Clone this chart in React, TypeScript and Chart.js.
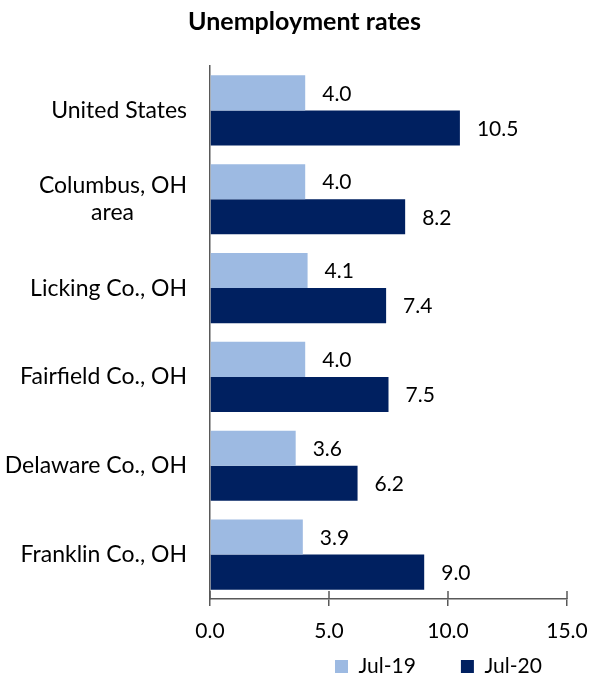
import React, { useEffect, useRef } from 'react';
import { Chart, registerables } from 'chart.js';

Chart.register(...registerables);

// ---- data ----
const chartTitle = 'Unemployment rates';
const categories: (string | string[])[] = [
  'United States',
  ['Columbus, OH', 'area'],
  'Licking Co., OH',
  'Fairfield Co., OH',
  'Delaware Co., OH',
  'Franklin Co., OH',
];
const seriesNames = ['Jul-19', 'Jul-20'];
const jul19 = [4.0, 4.0, 4.1, 4.0, 3.6, 3.9];
const jul20 = [10.5, 8.2, 7.4, 7.5, 6.2, 9.0];
const xTickValues = [0, 5, 10, 15];

// ---- style ----
const FONT = 'Lato, "Open Sans", sans-serif';
const LIGHT = '#9DBAE2';
const DARK = '#002060';
const AXIS = '#595959';
const CAT_SIZE = 23;
const NUM_SIZE = 21;

const valueLabels = {
  id: 'valueLabels',
  afterDatasetsDraw(chart: any) {
    const ctx = chart.ctx;
    ctx.save();
    ctx.font = `${NUM_SIZE}px ${FONT}`;
    ctx.fillStyle = '#000';
    ctx.textAlign = 'left';
    ctx.textBaseline = 'middle';
    chart.data.datasets.forEach((ds: any, di: number) => {
      const meta = chart.getDatasetMeta(di);
      meta.data.forEach((bar: any, i: number) => {
        ctx.fillText(Number(ds.data[i]).toFixed(1), bar.x + 17, bar.y + 1);
      });
    });
    ctx.restore();
  },
};

const crossTicks = {
  id: 'crossTicks',
  afterDraw(chart: any) {
    const sx = chart.scales.x;
    const ctx = chart.ctx;
    const bottom = chart.chartArea.bottom;
    ctx.save();
    ctx.strokeStyle = AXIS;
    ctx.lineWidth = 1.5;
    sx.ticks.forEach((t: any) => {
      const px = sx.getPixelForValue(t.value);
      ctx.beginPath();
      ctx.moveTo(px, bottom - 8);
      ctx.lineTo(px, bottom);
      ctx.stroke();
    });
    ctx.restore();
  },
};

const nudge = {
  id: 'nudge',
  afterLayout(chart: any) {
    const t = chart.titleBlock;
    if (t) {
      t.left += 21;
      t.right += 21;
    }
    // let the x tick labels draw below the (thin) scale box
    if (chart.scales.x) chart.scales.x.bottom = chart.height;
    const lg = chart.legend;
    if (lg && lg.lineWidths) {
      const pad = lg.options.labels.padding;
      const cur = (lg.left + pad + lg.right - lg.lineWidths[0]) / 2;
      const target = chart.chartArea.left + 125;
      const dx = target - cur;
      lg.left += dx;
      lg.right += dx;
      lg.top += 8;
      lg.bottom += 8;
      if (lg.adjustHitBoxes) lg.adjustHitBoxes();
    }
  },
};

export default function App() {
  const ref = useRef<HTMLCanvasElement | null>(null);

  useEffect(() => {
    document.body.style.margin = '0';
    const canvas = ref.current;
    if (!canvas) return;
    const chart = new Chart(canvas, {
      type: 'bar',
      data: {
        labels: categories as any,
        datasets: [
          {
            label: seriesNames[0],
            data: jul19,
            backgroundColor: LIGHT,
            categoryPercentage: 0.79,
            barPercentage: 1,
          },
          {
            label: seriesNames[1],
            data: jul20,
            backgroundColor: DARK,
            categoryPercentage: 0.79,
            barPercentage: 1,
          },
        ],
      },
      options: {
        indexAxis: 'y',
        animation: false,
        responsive: true,
        maintainAspectRatio: false,
        layout: { padding: { left: 0, right: 22, top: 0, bottom: 0 } },
        plugins: {
          title: {
            display: true,
            text: chartTitle,
            color: '#000',
            font: { family: FONT, size: 25, weight: 'bold' },
            padding: { top: 6.8, bottom: 29.2 },
          },
          legend: {
            position: 'bottom',
            labels: {
              color: '#000',
              font: { family: FONT, size: NUM_SIZE },
              boxWidth: 13,
              boxHeight: 13,
              padding: 45,
            },
          },
          tooltip: { enabled: false },
        },
        scales: {
          x: {
            min: 0,
            max: 15,
            afterBuildTicks: (scale: any) => {
              scale.ticks = xTickValues.map((v) => ({ value: v }));
            },
            afterFit: (scale: any) => {
              scale.height = 4;
              scale.paddingLeft = 0;
              scale.paddingRight = 0;
            },
            ticks: {
              color: '#000',
              font: { family: FONT, size: NUM_SIZE },
              padding: 13,
              maxRotation: 0,
              autoSkip: false,
              callback: (v: any) => Number(v).toFixed(1),
            },
            grid: {
              display: true,
              drawOnChartArea: false,
              drawTicks: true,
              tickLength: 7,
              color: AXIS,
              lineWidth: 1.5,
            },
            border: { display: true, color: AXIS, width: 1.5 },
          },
          y: {
            afterFit: (scale: any) => {
              scale.width = 210;
              scale.paddingTop = 0;
              scale.paddingBottom = 0;
            },
            ticks: {
              color: '#000',
              font: { family: FONT, size: CAT_SIZE },
              padding: 23,
              autoSkip: false,
              callback: function (this: any, value: any) {
                const lab = categories[value as number];
                if (!Array.isArray(lab)) return lab;
                const ctx = this.chart.ctx;
                ctx.save();
                ctx.font = `${CAT_SIZE}px ${FONT}`;
                const widths = lab.map((l) => ctx.measureText(l).width);
                const max = Math.max(...widths);
                const sp = ctx.measureText(' ').width || 5;
                const out = lab.map(
                  (l, i) => l + ' '.repeat(Math.round((max - widths[i]) / 2 / sp))
                );
                ctx.restore();
                return out;
              },
            },
            grid: {
              display: true,
              drawOnChartArea: false,
              drawTicks: false,
            },
            border: { display: true, color: AXIS, width: 1.5 },
          },
        },
      } as any,
      plugins: [valueLabels, crossTicks, nudge],
    });
    return () => chart.destroy();
  }, []);

  return (
    <div style={{ position: 'relative', width: 589, height: 679 }}>
      <canvas ref={ref} />
    </div>
  );
}
